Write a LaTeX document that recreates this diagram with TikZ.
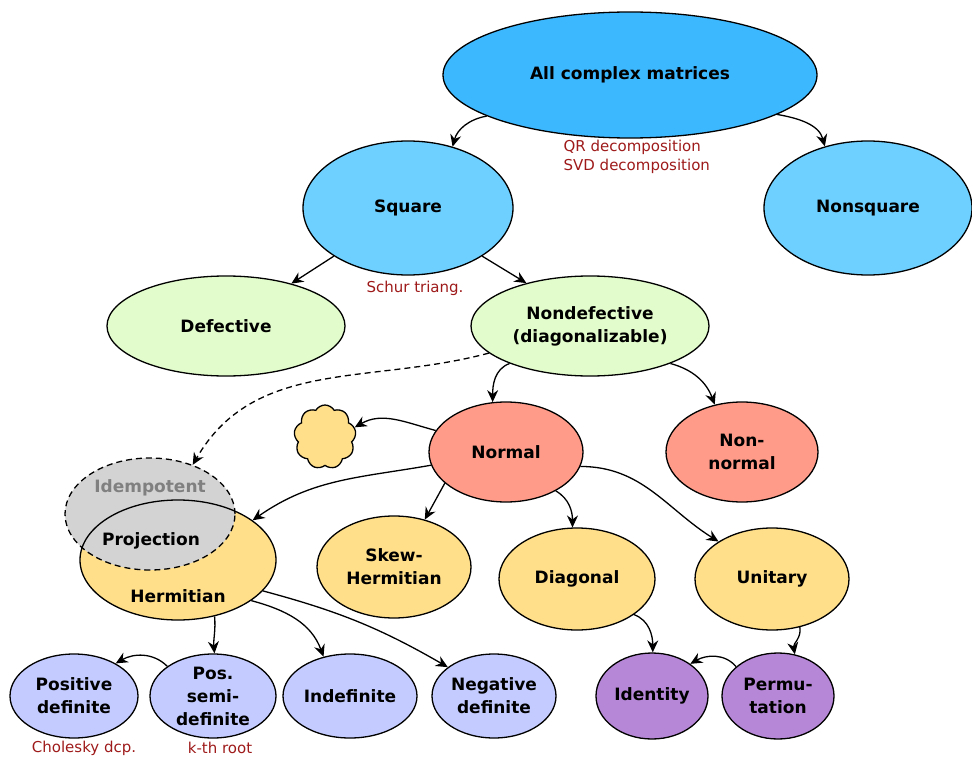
\documentclass[tikz,border=0pt]{standalone}
\usepackage{fontspec}
\setmainfont{DejaVu Sans}
\usetikzlibrary{shapes.geometric,shapes.symbols,arrows.meta}
\definecolor{allblue}{HTML}{3CB8FF}
\definecolor{sqblue}{HTML}{6DD0FF}
\definecolor{paleg}{HTML}{E3FCCB}
\definecolor{salmon}{HTML}{FF9B88}
\definecolor{hermy}{HTML}{FFDF8A}
\definecolor{lav}{HTML}{C4CCFF}
\definecolor{purp}{HTML}{B587D6}
\definecolor{idemg}{HTML}{D3D3D3}
\definecolor{dcpred}{HTML}{9E1A1A}
\begin{document}
\begin{tikzpicture}[x=1pt,y=1pt,line width=1.3pt,
  mat/.style={ellipse,draw,inner sep=0pt,align=center,font=\bfseries\fontsize{17}{23}\selectfont},
  lbl/.style={inner sep=0pt,align=center,font=\bfseries\fontsize{17}{23}\selectfont},
  dcp/.style={inner sep=0pt,text=dcpred,font=\fontsize{15}{19}\selectfont},
  arr/.style={-{Stealth[length=12pt,width=11pt,inset=4pt]}}]
\useasboundingbox (0,0) rectangle (972,-757);
\node[mat,fill=allblue,minimum width=374pt,minimum height=126pt] (all) at (630,-75) {All complex matrices};
\node[mat,fill=sqblue,minimum width=210pt,minimum height=134pt] (sq) at (408,-208) {Square};
\node[mat,fill=sqblue,minimum width=208pt,minimum height=134pt] (nonsq) at (868,-208) {Nonsquare};
\node[mat,fill=paleg,minimum width=238pt,minimum height=100pt] (def) at (226,-326) {Defective};
\node[mat,fill=paleg,minimum width=238pt,minimum height=100pt] (nondef) at (590,-326) {Nondefective\\(diagonalizable)};
\node[mat,fill=salmon,minimum width=154pt,minimum height=100pt] (normal) at (506,-452) {Normal};
\node[mat,fill=salmon,minimum width=152pt,minimum height=100pt] (nonnormal) at (742,-452) {Non-\\normal};
\node[cloud,cloud puffs=9,cloud puff arc=120,aspect=1,draw,fill=hermy,inner sep=0pt,minimum width=62pt,minimum height=64pt] (cloud) at (325,-437) {};
\node[ellipse,fill=hermy,inner sep=0pt,minimum width=196pt,minimum height=120pt] (herm) at (178,-560) {};
\node[ellipse,fill=idemg,inner sep=0pt,minimum width=170pt,minimum height=112pt] (idem) at (150,-514) {};
\draw (herm.center) ellipse[x radius=98,y radius=60];
\draw[dash pattern=on 6pt off 4pt] (idem.center) ellipse[x radius=85,y radius=56];
\node[lbl,text=gray] (idemtxt) at (150,-488) {Idempotent};
\node[lbl] (projtxt) at (151,-541) {Projection};
\node[lbl] (hermtxt) at (178,-596) {Hermitian};
\node[mat,fill=hermy,minimum width=154pt,minimum height=102pt] (skew) at (394,-567) {Skew-\\Hermitian};
\node[mat,fill=hermy,minimum width=156pt,minimum height=102pt] (diag) at (577,-579) {Diagonal};
\node[mat,fill=hermy,minimum width=154pt,minimum height=102pt] (unit) at (772,-579) {Unitary};
\node[mat,fill=lav,minimum width=128pt,minimum height=84pt] (pd) at (74,-696) {Positive\\definite};
\node[mat,fill=lav,minimum width=126pt,minimum height=84pt] (psd) at (213,-696) {Pos.\\semi-\\definite};
\node[mat,fill=lav,minimum width=134pt,minimum height=84pt] (indef) at (350,-696) {Indefinite};
\node[mat,fill=lav,minimum width=124pt,minimum height=84pt] (negdef) at (494,-696) {Negative\\definite};
\node[mat,fill=purp,minimum width=112pt,minimum height=86pt] (ident) at (652,-696) {Identity};
\node[mat,fill=purp,minimum width=112pt,minimum height=86pt] (perm) at (778,-696) {Permu-\\tation};
\node[dcp,anchor=west,align=left] (qrsvd) at (563,-157) {QR decomposition\\SVD decomposition};
\node[dcp] (schur) at (415,-288) {Schur triang.};
\node[dcp] (chol) at (84,-748) {Cholesky dcp.};
\node[dcp] (kroot) at (220,-748) {k-th root};
\draw[arr] (all.196) to[out=190,in=75] (sq.54);
\draw[arr] (all.345) to[out=-10,in=105] (nonsq.125);
\draw[arr] (sq.213) -- (def.33);
\draw[arr] (sq.327) -- (nondef.146);
\draw[arr] (nondef.205) to[out=200,in=90] (normal.105);
\draw[arr] (nondef.335) to[out=-15,in=110] (nonnormal.120);
\draw[arr,dash pattern=on 6pt off 4pt] (nondef.195) to[out=195,in=60] (idem.49);
\draw[arr] (normal.163) to[out=165,in=30] (cloud.18);
\draw[arr] (normal.190) to[out=190,in=35] (herm.28);
\draw[arr] (normal.207) -- (skew.57);
\draw[arr] (normal.322) to[out=-30,in=90] (diag.95);
\draw[arr] (normal.349) to[out=0,in=148] (unit.145);
\draw[arr] (herm.303) to[out=-85,in=95] (psd.88);
\draw[arr] (herm.331) to[out=-15,in=110] (indef.124);
\draw[arr] (herm.340) to[out=-15,in=150] (negdef.148);
\draw[arr] (psd.147) to[out=135,in=30] (pd.38);
\draw[arr] (diag.328) to[out=-20,in=90] (ident.89);
\draw[arr] (unit.300) to[out=-80,in=100] (perm.68);
\draw[arr] (perm.145) to[out=130,in=30] (ident.40);
\end{tikzpicture}
\end{document}
